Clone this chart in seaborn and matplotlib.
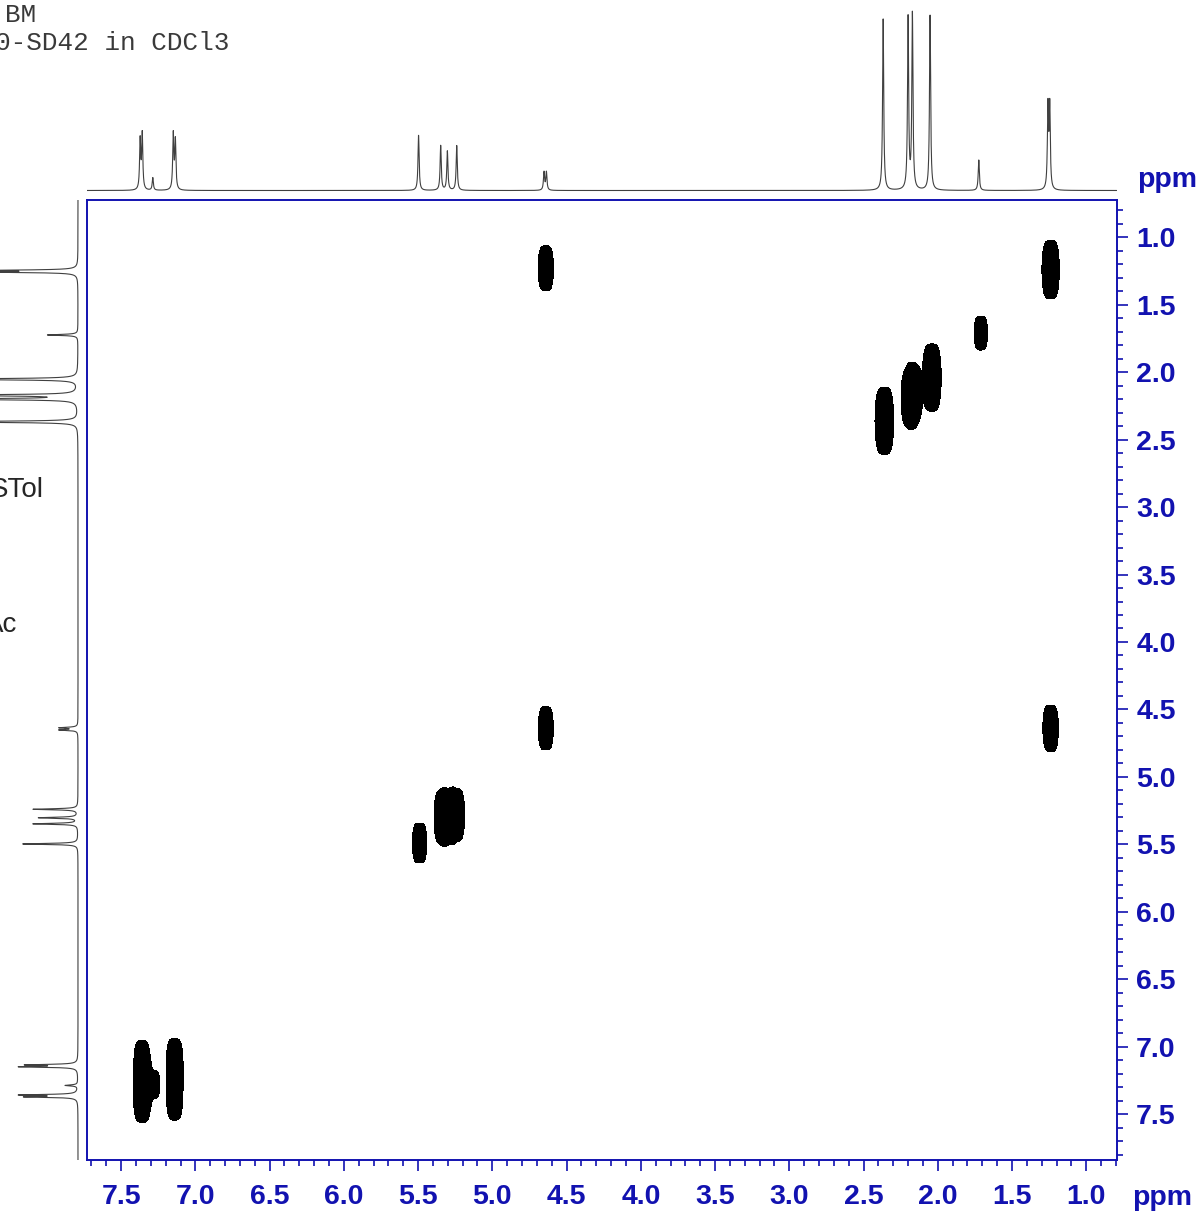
import numpy as np
import matplotlib
matplotlib.use("Agg")
import matplotlib.pyplot as plt
from matplotlib.ticker import MultipleLocator
import seaborn as sns

# 1D proton spectrum: line positions (ppm) and relative heights
line_ppm = [7.372, 7.358, 7.287, 7.149, 7.135, 5.497, 5.348, 5.303, 5.240,
            4.652, 4.636, 2.368, 2.200, 2.171, 2.052, 1.724, 1.258, 1.246]
line_height = [0.26, 0.29, 0.066, 0.29, 0.255, 0.29, 0.235, 0.205, 0.235,
               0.095, 0.095, 0.90, 0.90, 0.92, 0.92, 0.16, 0.43, 0.43]

# COSY diagonal peaks (same shift in F2 and F1) and their contour amplitude
diag_ppm = [7.36, 7.28, 7.14, 5.49, 5.34, 5.30, 5.24, 4.64, 2.36, 2.19, 2.16, 2.04, 1.71, 1.24]
diag_amp = [0.44, 0.15, 0.44, 0.225, 0.20, 0.18, 0.20, 0.26, 0.99, 0.50, 0.50, 1.0, 0.18, 0.56]

# COSY cross peaks
cross_f2 = [7.36, 7.14, 4.64, 1.24, 5.34, 5.24]
cross_f1 = [7.14, 7.36, 1.23, 4.64, 5.24, 5.34]
cross_amp = [0.35, 0.35, 0.28, 0.30, 0.15, 0.15]

xtick_vals = [7.5, 7.0, 6.5, 6.0, 5.5, 5.0, 4.5, 4.0, 3.5, 3.0, 2.5, 2.0, 1.5, 1.0]
ytick_vals = [1.0, 1.5, 2.0, 2.5, 3.0, 3.5, 4.0, 4.5, 5.0, 5.5, 6.0, 6.5, 7.0, 7.5]
x_lim = (7.73, 0.795)
y_lim = (7.84, 0.72)

W, H = 1198, 1212
blue = "#1212b0"
trace_col = "#404040"

sns.set_style("white")
plt.rcParams["font.family"] = ["Liberation Sans", "DejaVu Sans"]


def px_box(x0, y0, x1, y1):
    return [x0 / W, 1 - y1 / H, (x1 - x0) / W, (y1 - y0) / H]


def spectrum(ppm, gamma=0.0045):
    out = np.zeros_like(ppm)
    for p, h in zip(line_ppm, line_height):
        out += h * gamma ** 2 / ((ppm - p) ** 2 + gamma ** 2)
    return out


fig = plt.figure(figsize=(W / 100, H / 100), dpi=100)
ax = fig.add_axes(px_box(87, 199.5, 1116.7, 1160))
ax_top = fig.add_axes(px_box(87, 0, 1116.7, 196))
ax_left = fig.add_axes(px_box(0, 199.5, 84, 1160))

# 2D contour map
f2 = np.arange(x_lim[1], x_lim[0], 0.003)
f1 = np.arange(y_lim[1], y_lim[0], 0.006)
pk_f2 = np.array(diag_ppm + cross_f2)
pk_f1 = np.array(diag_ppm + cross_f1)
pk_amp = np.array(diag_amp + cross_amp)
sx, sy = 0.051, 0.116
gx = np.exp(-((f2[None, :] - pk_f2[:, None]) / sx) ** 4)
gy = np.exp(-0.5 * ((f1[:, None] - pk_f1[None, :]) / sy) ** 2)
Z = (gy * pk_amp) @ gx
ax.contourf(f2, f1, Z, levels=[0.1, Z.max() + 1], colors="black")

ax.set_xlim(*x_lim)
ax.set_ylim(*y_lim)
ax.yaxis.tick_right()
lab_kw = dict(fontsize=20.5, fontweight="bold", color=blue)
ax.set_xticks(xtick_vals, labels=[f"{v:.1f}" for v in xtick_vals], **lab_kw)
ax.set_yticks(ytick_vals, labels=[f"{v:.1f}" for v in ytick_vals], **lab_kw)
ax.xaxis.set_minor_locator(MultipleLocator(0.1))
ax.yaxis.set_minor_locator(MultipleLocator(0.1))
ax.tick_params(which="both", direction="out", colors=blue, width=1.2,
               bottom=True, right=True, left=False, top=False)
ax.tick_params(which="major", length=8)
ax.tick_params(which="minor", length=4)
ax.tick_params(axis="x", which="major", pad=9)
ax.tick_params(axis="y", which="major", pad=6)
for s in ax.spines.values():
    s.set_color(blue)
    s.set_linewidth(1.4)

# projections
ppm_top = np.linspace(x_lim[0], x_lim[1], 14000)
sns.lineplot(x=ppm_top, y=spectrum(ppm_top), ax=ax_top, color=trace_col,
             lw=0.8, estimator=None, sort=False)
ax_top.set_xlim(*x_lim)
ax_top.set_ylim(-5.5 / 190.5, 1.0)
ax_top.axis("off")

ppm_left = np.linspace(y_lim[1], y_lim[0], 14000)
sns.lineplot(x=spectrum(ppm_left), y=ppm_left, ax=ax_left, color=trace_col,
             lw=0.8, estimator=None, sort=False, orient="y")
ax_left.set_ylim(*y_lim)
ax_left.set_xlim(78 / 190.5, -6 / 190.5)
ax_left.axis("off")

# texts
mono = dict(family="Liberation Mono", fontsize=18.7, color="#3a3a3a", va="baseline")
fig.text(5 / W, 1 - 22 / H, "BM", **mono)
fig.text(-5 / W, 1 - 50 / H, "0-SD42 in CDCl3", **mono)
fig.text(44 / W, 1 - 497 / H, "STol", ha="right", va="baseline", fontsize=20)
fig.text(17 / W, 1 - 632 / H, "Ac", ha="right", va="baseline", fontsize=20)
fig.text(1132 / W, 1 - 1205 / H, "ppm", va="baseline", **lab_kw)
fig.text(1137 / W, 1 - 187 / H, "ppm", va="baseline", **lab_kw)

fig.savefig("out.png", dpi=100)
